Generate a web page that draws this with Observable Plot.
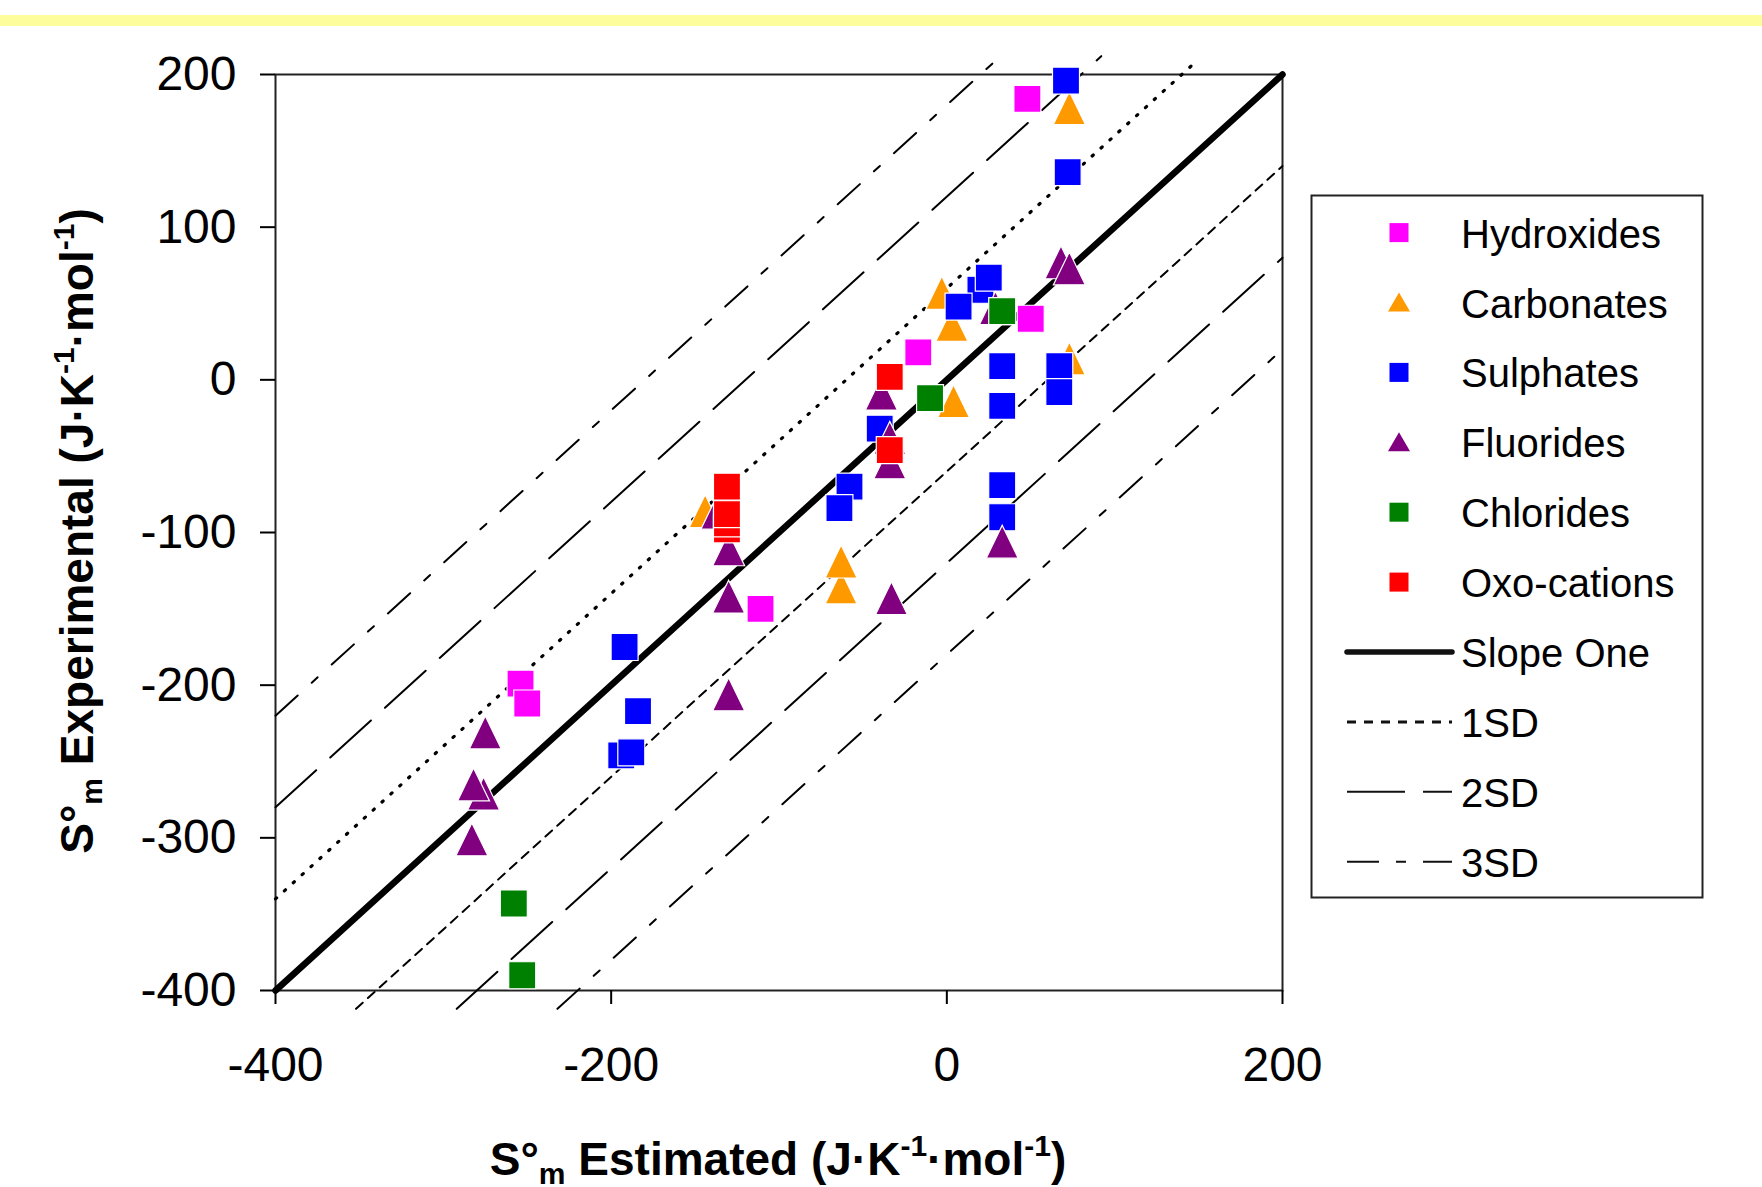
<!DOCTYPE html>
<html><head><meta charset="utf-8">
<script src="https://cdn.jsdelivr.net/npm/d3@7"></script>
<script src="https://cdn.jsdelivr.net/npm/@observablehq/plot@0.6"></script>
<style>
html,body{margin:0;padding:0;background:#fff;width:1762px;height:1187px;overflow:hidden;}
#chart{position:absolute;left:0;top:0;}
#band{position:absolute;left:0;top:15px;width:1762px;height:11px;background:#fdfd9c;}
</style></head><body>
<div id="chart"></div>
<div id="band"></div>
<script>
// ---- series ----
const seriesNames  = ["Hydroxides","Carbonates","Sulphates","Fluorides","Chlorides","Oxo-cations"];
const seriesColors = ["#ff00ff","#ff9900","#0000ff","#800080","#008000","#ff0000"];
const seriesShapes = ["square","triangle","square","triangle","square","square"];

const hydroxidesX = [48, 50, -17, -111, -254, -250];
const hydroxidesY = [184, 40, 18, -150, -199, -212];

const carbonatesX = [73, -3, 3, 4, 73, -144, -63, -63];
const carbonatesY = [178, 57, 36, -14, 14, -86, -136, -119];

const sulphatesX = [71, 72, 20, 25, 7, 33, 33, 67, 67, 33, 33, -40, -58, -64, -192, -184, -194, -188];
const sulphatesY = [196, 136, 59, 67, 48, 9, -17, 9, -8, -69, -90, -32, -70, -84, -175, -217, -246, -244];

const fluoridesX = [68, 73, 29, -39, -34, -34, 33, -137, -130, -130, -33, -130, -275, -276, -282, -283];
const fluoridesY = [77, 73, 47, -9, -38, -54, -106, -87, -111, -142, -143, -206, -231, -271, -265, -301];

const chloridesX = [33, -10, -258, -253];
const chloridesY = [45, -12, -343, -390];

const oxoX = [-34, -34, -131, -131, -131, -131];
const oxoY = [2, -46, -98, -94, -88, -70];

// ---- reference lines (endpoints) ----
const refNames = ["Slope One", "1SD", "1SD", "2SD", "2SD", "3SD", "3SD"];
const refSide  = ["mid", "upper", "lower", "upper", "lower", "upper", "lower"];
const refX1 = [-400, -400, -352, -400, -292, -400, -232];
const refY1 = [-400, -340, -412, -280, -412, -220, -412];
const refX2 = [200, 150, 200, 92, 200, 32, 200];
const refY2 = [200, 210, 140, 212, 80, 212, 20];

// ---- axes ----
const xTicks = [-400, -200, 0, 200];
const yTicks = [-400, -300, -200, -100, 0, 100, 200];
const legendLineNames = ["Slope One", "1SD", "2SD", "3SD"];

// ---- build ----
const seriesX = [hydroxidesX, carbonatesX, sulphatesX, fluoridesX, chloridesX, oxoX];
const seriesY = [hydroxidesY, carbonatesY, sulphatesY, fluoridesY, chloridesY, oxoY];
const pts = (xs, ys) => xs.map((x, i) => ({x, y: ys[i]}));

const squareSym = {draw(ctx, size) {
  const r = Math.sqrt(size / Math.PI);
  ctx.moveTo(-r, -r); ctx.lineTo(r, -r); ctx.lineTo(r, r); ctx.lineTo(-r, r); ctx.closePath();
}};
const triangleSym = {draw(ctx, size) {
  const r = Math.sqrt(size / Math.PI), h = r * 1.03;
  ctx.moveTo(0, -h); ctx.lineTo(r, h); ctx.lineTo(-r, h); ctx.closePath();
}};

const lineStyle = {
  "Slope One": {mid: {strokeWidth: 6.5}},
  "1SD": {upper: {strokeWidth: 3.2, strokeDasharray: "1.5,10.5", strokeLinecap: "round"},
          lower: {strokeWidth: 2, strokeDasharray: "9,7"}},
  "2SD": {upper: {strokeWidth: 2, strokeDasharray: "55,19"}, lower: {strokeWidth: 2, strokeDasharray: "55,19"}},
  "3SD": {upper: {strokeWidth: 2, strokeDasharray: "30,19,8,19"}, lower: {strokeWidth: 2, strokeDasharray: "30,19,8,19"}}
};

const lineMarks = refNames.map((name, i) =>
  Plot.line([{x: refX1[i], y: refY1[i]}, {x: refX2[i], y: refY2[i]}],
    {x: "x", y: "y", stroke: "#000", ...lineStyle[name][refSide[i]]}));

const dotMarks = seriesNames.map((name, i) =>
  Plot.dot(pts(seriesX[i], seriesY[i]), {
    x: "x", y: "y",
    symbol: seriesShapes[i] === "square" ? squareSym : triangleSym,
    r: seriesShapes[i] === "square" ? 13.5 : 16,
    fill: seriesColors[i], stroke: "white", strokeWidth: 1.2
  }));

const chart = Plot.plot({
  width: 1762, height: 1187,
  marginLeft: 275, marginRight: 480, marginTop: 74, marginBottom: 197,
  x: {domain: [-400, 200]},
  y: {domain: [-400, 200]},
  style: {fontFamily: "'Liberation Sans', Arial, sans-serif", fontSize: "48px", color: "#000", background: "transparent", overflow: "visible"},
  marks: [
    Plot.frame({stroke: "#222", strokeWidth: 2}),
    Plot.axisX({ticks: xTicks, tickSize: 14, tickPadding: 42, label: null, tickFormat: d => String(d), strokeWidth: 2, fontSize: 48}),
    Plot.axisY({ticks: yTicks, tickSize: 15, tickPadding: 24, label: null, tickFormat: d => String(d), strokeWidth: 2, fontSize: 48}),
    ...lineMarks,
    ...dotMarks
  ]
});
document.getElementById("chart").appendChild(chart);

const svg = d3.select(chart);
const FONT = "'Liberation Sans', Arial, sans-serif";

// ---- axis titles ----
function title(g, main1) {
  g.append("tspan").text("S°");
  g.append("tspan").attr("font-size", 30).attr("dy", 9).text("m");
  g.append("tspan").attr("dy", -9).text(" " + main1 + " (J·K");
  g.append("tspan").attr("font-size", 30).attr("dy", -19).text("-1");
  g.append("tspan").attr("dy", 19).text("·mol");
  g.append("tspan").attr("font-size", 30).attr("dy", -19).text("-1");
  g.append("tspan").attr("dy", 19).text(")");
}
const yt = svg.append("text").attr("transform", "translate(93,531) rotate(-90)")
  .attr("text-anchor", "middle").attr("font-weight", "bold").attr("font-size", 46)
  .attr("font-family", FONT).attr("fill", "#000");
title(yt, "Experimental");
const xt = svg.append("text").attr("x", 778).attr("y", 1175)
  .attr("text-anchor", "middle").attr("font-weight", "bold").attr("font-size", 46)
  .attr("font-family", FONT).attr("fill", "#000");
title(xt, "Estimated");

// ---- legend ----
const lg = svg.append("g").attr("font-family", FONT).attr("text-anchor", "start");
lg.append("rect").attr("x", 1311.5).attr("y", 195.5).attr("width", 391).attr("height", 702)
  .attr("fill", "white").attr("stroke", "#222").attr("stroke-width", 2);
const rowY0 = 232.6, rowStep = 69.9, mx = 1399, tx = 1461;
seriesNames.forEach((name, i) => {
  const cy = rowY0 + i * rowStep;
  if (seriesShapes[i] === "square") {
    lg.append("rect").attr("x", mx - 9.5).attr("y", cy - 9.5).attr("width", 19).attr("height", 19).attr("fill", seriesColors[i]);
  } else {
    lg.append("path").attr("d", `M${mx},${cy - 10}L${mx + 11},${cy + 9}L${mx - 11},${cy + 9}Z`).attr("fill", seriesColors[i]);
  }
  lg.append("text").attr("x", tx).attr("y", cy + 15).attr("text-anchor", "start").attr("font-size", 40).attr("fill", "#000").text(name);
});
const legendLineStyle = {
  "Slope One": {w: 5.5, dash: null},
  "1SD": {w: 3, dash: "9,8"},
  "2SD": {w: 2, dash: "58,18"},
  "3SD": {w: 2, dash: "32,17,10,17"}
};
legendLineNames.forEach((name, j) => {
  const cy = rowY0 + (seriesNames.length + j) * rowStep;
  const st = legendLineStyle[name];
  const ln = lg.append("line").attr("x1", 1347).attr("x2", 1452).attr("y1", cy).attr("y2", cy)
    .attr("stroke", "#111").attr("stroke-width", st.w).attr("stroke-linecap", name === "Slope One" ? "round" : "butt");
  if (st.dash) ln.attr("stroke-dasharray", st.dash);
  lg.append("text").attr("x", tx).attr("y", cy + 15).attr("text-anchor", "start").attr("font-size", 40).attr("fill", "#000").text(name);
});
</script>
</body></html>
